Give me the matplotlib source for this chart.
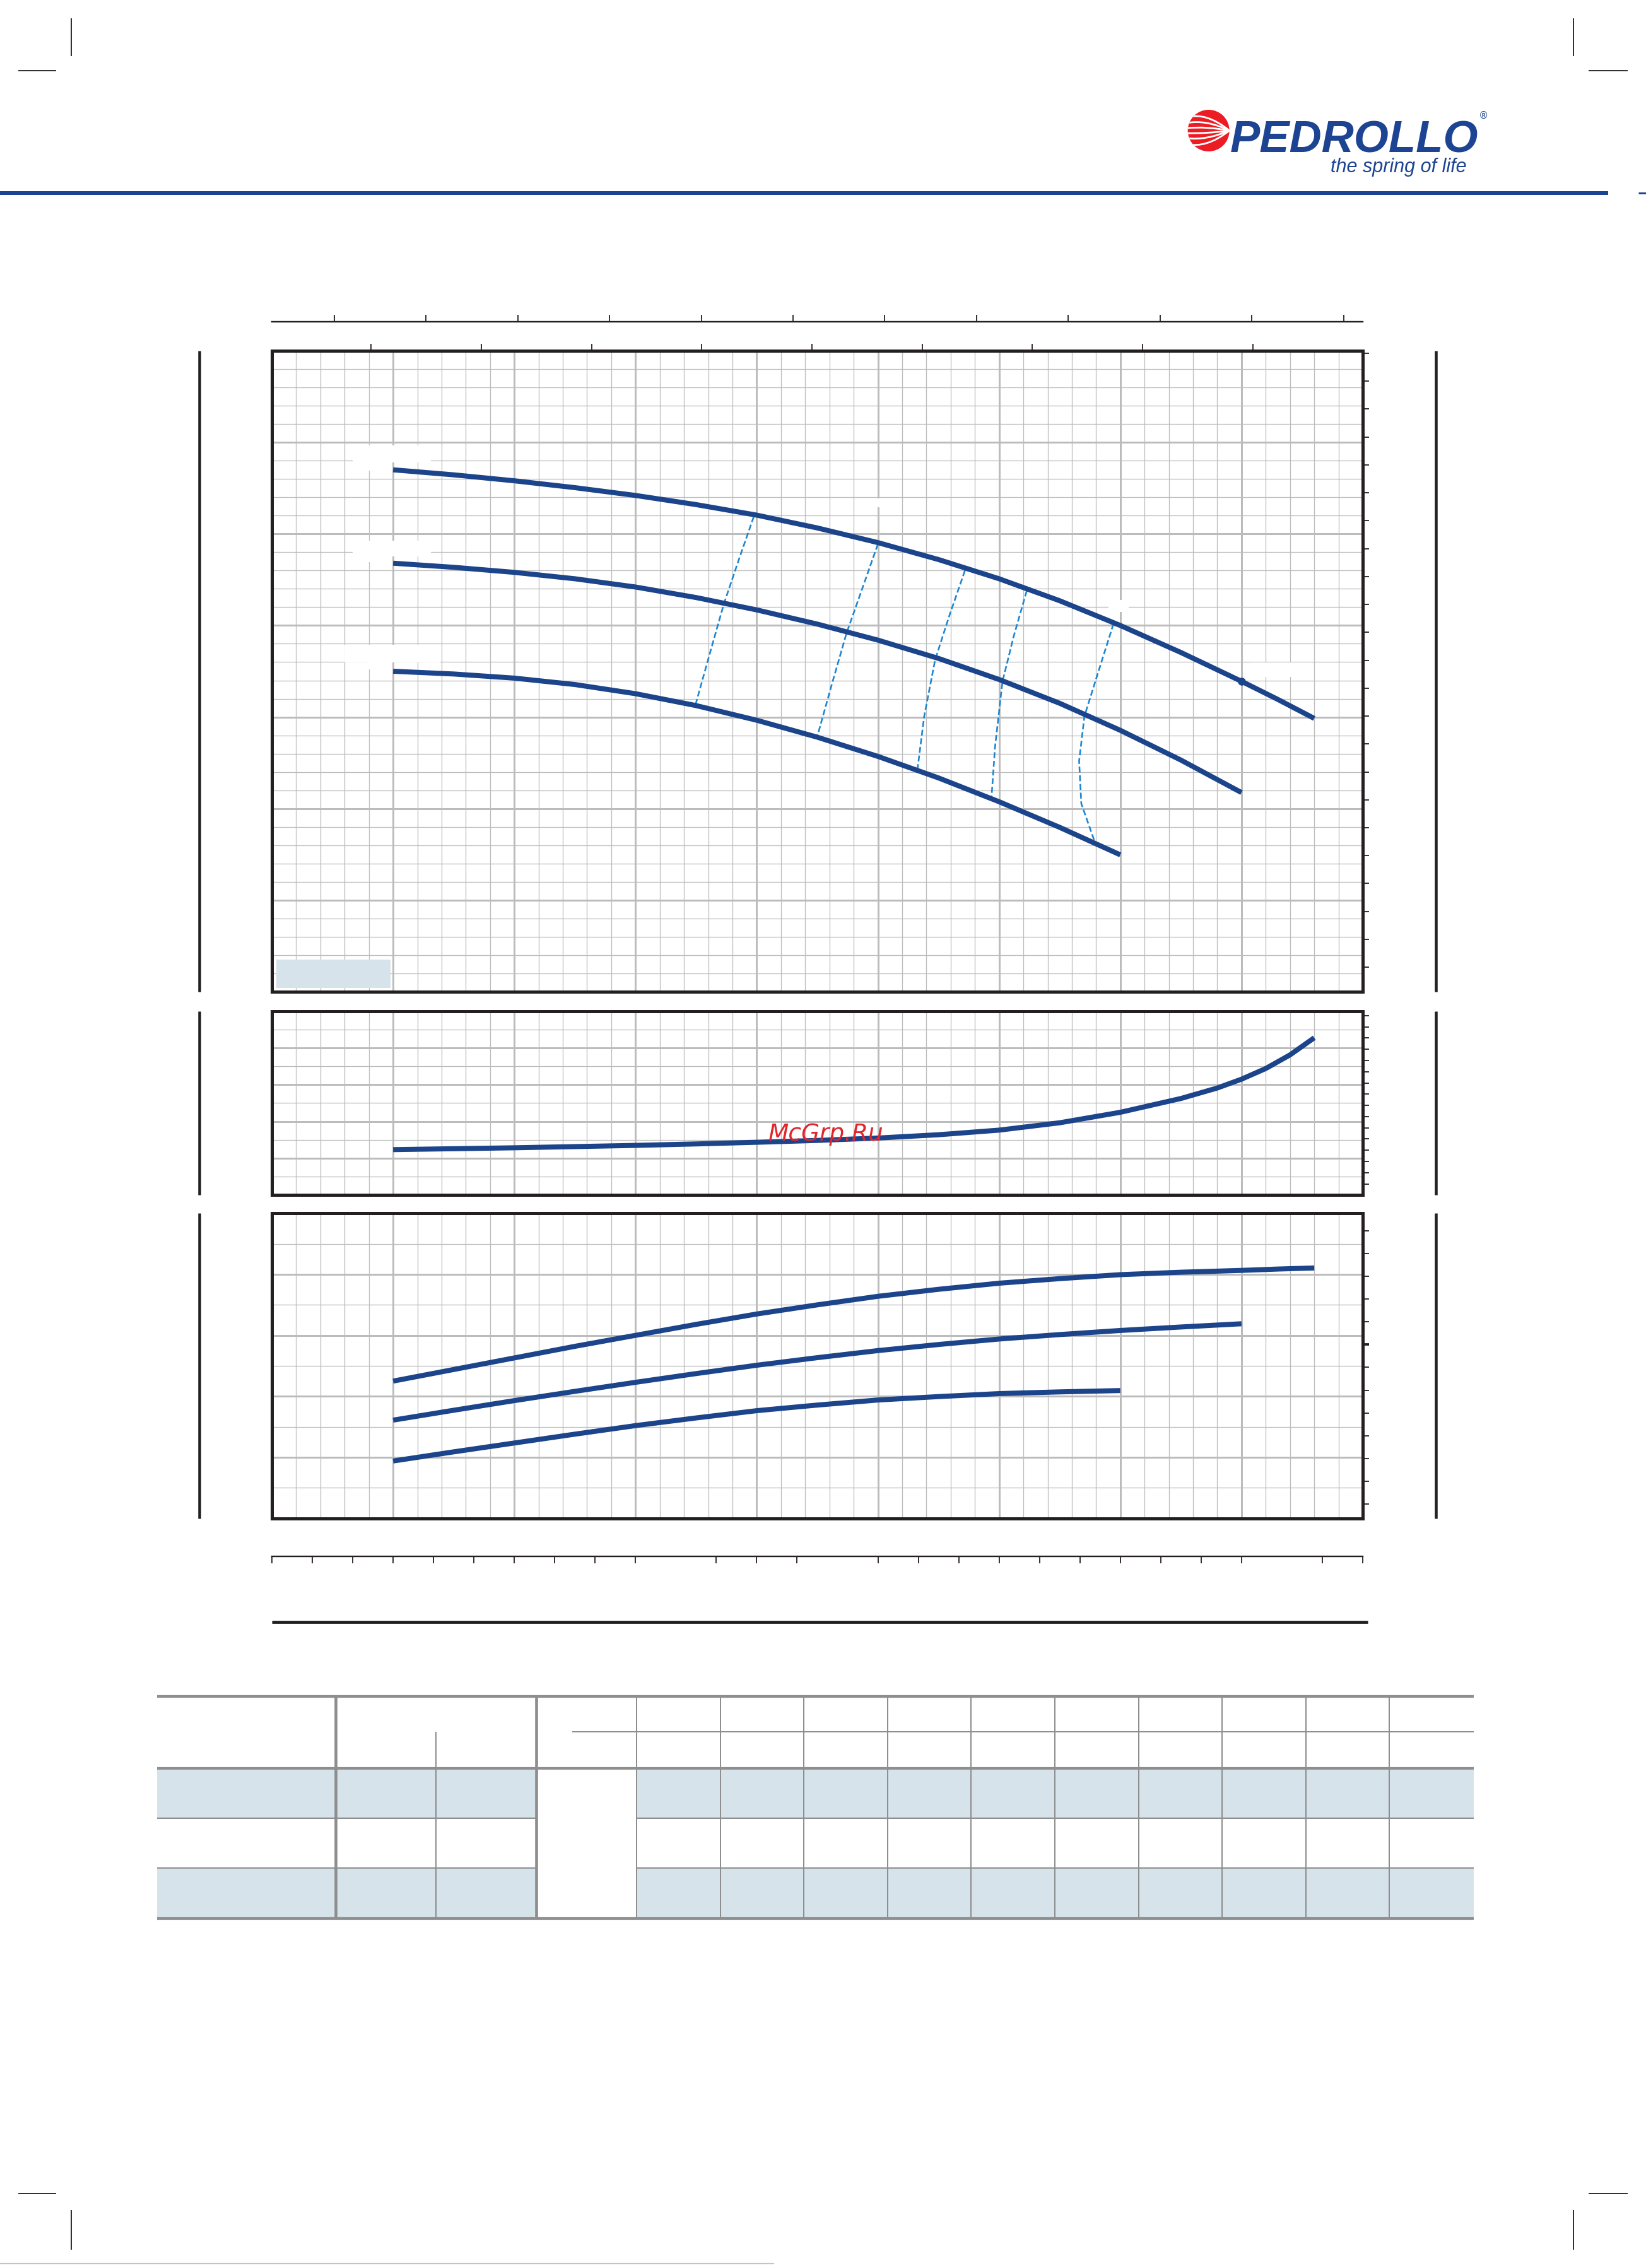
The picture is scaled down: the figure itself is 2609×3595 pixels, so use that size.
import numpy as np
import matplotlib
matplotlib.use('Agg')
import matplotlib.pyplot as plt
from matplotlib.patches import Rectangle, Circle, PathPatch
from matplotlib.path import Path
from matplotlib.ticker import MultipleLocator, FixedLocator

W, H = 2609, 3595
DPI = 100
PX = 72.0 / DPI  # points per pixel

# ---------------- data ----------------
# flow rate l/min, head m
q_a = [100, 125, 150, 175, 200, 225, 250, 275, 300, 325, 350, 375, 400, 425, 450, 465, 480]
h_a = [97.0, 96.45, 95.8, 95.05, 94.2, 93.2, 92.05, 90.65, 89.05, 87.2, 85.1, 82.7, 80.0, 77.05, 73.9, 71.92, 69.85]
q_b = [100, 125, 150, 175, 200, 225, 250, 275, 300, 325, 350, 375, 400, 425, 450]
h_b = [86.8, 86.35, 85.8, 85.1, 84.2, 83.05, 81.7, 80.15, 78.4, 76.4, 74.1, 71.5, 68.55, 65.3, 61.75]
q_c = [100, 125, 150, 175, 200, 225, 250, 275, 300, 325, 350, 375, 400]
h_c = [75.0, 74.7, 74.25, 73.55, 72.55, 71.25, 69.65, 67.8, 65.7, 63.35, 60.75, 57.95, 54.95]

# iso-efficiency dashed lines (Q, H)
eff1_q = [248.8, 242.5, 236.5, 230.5, 224.7]
eff1_h = [91.9, 87.1, 82.4, 76.8, 71.3]
eff2_q = [300.0, 293.5, 287.1, 280.9, 274.9]
eff2_h = [88.9, 84.0, 79.2, 73.5, 67.8]
eff3_q = [335.9, 329.5, 323.6, 319.1, 316.3]
eff3_h = [86.0, 81.1, 76.25, 70.1, 64.25]
eff4_q = [361.4, 356.0, 351.4, 348.3, 346.8]
eff4_h = [83.8, 78.8, 73.9, 66.7, 61.0]
eff5_q = [397.2, 391.0, 385.2, 383.0, 383.9, 389.4]
eff5_h = [80.2, 75.0, 70.1, 65.2, 60.55, 56.4]

# marked point on the top curve
dot_q = [450]
dot_h = [73.9]

# NPSH (m)
q_npsh = [100, 125, 150, 175, 200, 225, 250, 275, 300, 325, 350, 375, 400, 425, 440, 450, 460, 470, 480]
npsh = [2.47, 2.52, 2.57, 2.635, 2.70, 2.78, 2.87, 2.97, 3.10, 3.28, 3.53, 3.93, 4.50, 5.25, 5.82, 6.30, 6.88, 7.62, 8.55]

# power (kW)
q_pa = [100, 125, 150, 175, 200, 225, 250, 275, 300, 325, 350, 375, 400, 425, 450, 465, 480]
p_a = [4.25, 4.44, 4.63, 4.82, 5.0, 5.18, 5.35, 5.50, 5.64, 5.755, 5.855, 5.93, 5.995, 6.035, 6.065, 6.087, 6.105]
q_pb = [100, 125, 150, 175, 200, 225, 250, 275, 300, 325, 350, 375, 400, 425, 450]
p_b = [3.61, 3.772, 3.93, 4.082, 4.23, 4.373, 4.51, 4.634, 4.75, 4.85, 4.94, 5.013, 5.08, 5.137, 5.19]
q_pc = [100, 125, 150, 175, 200, 225, 250, 275, 300, 325, 350, 375, 400]
p_c = [2.94, 3.09, 3.235, 3.38, 3.52, 3.646, 3.765, 3.857, 3.94, 3.996, 4.045, 4.073, 4.095]

# axis scales / tick positions (no labels legible in the reference)
q_range = (50, 500)          # l/min
h_range = (40, 110)          # m
npsh_range = (0, 10)         # m
p_range = (2, 7)             # kW
usgpm_ticks = list(range(20, 131, 10))
impgpm_ticks = list(range(20, 101, 10))
m3h_ticks = [3, 4, 5, 6, 7, 8, 9, 10, 11, 12, 14, 15, 16, 18, 19, 20, 21,
             22, 23, 24, 25, 26, 27, 29, 30]
ft_ticks_main = list(range(140, 361, 10))
ft_ticks_npsh = list(range(2, 33, 2))
hp_ticks = [3, 3.5, 4, 4.5, 5, 5.5, 6, 7, 7.5, 8, 8.5, 9]
hp_ticks_bold = [6.5]

# blank label areas on the head chart (Q0, H0, Q1, H1)
label_boxes = [
    (83.3, 97.8, 115.6, 99.66), (89.8, 96.9, 99.7, 97.8),
    (83.3, 87.53, 115.6, 89.26), (89.8, 86.9, 99.7, 87.53),
    (80.0, 75.95, 119.5, 77.9), (89.8, 75.2, 99.7, 75.95),
    (298.2, 92.9, 307.3, 93.9),
    (453.7, 74.4, 478.8, 75.96),
    (395.0, 81.5, 403.5, 82.8),
]

# ---------------- styles ----------------
BOX = '#231f20'
GRID = '#bcbcbc'
BLUE = '#1b448b'
DASH = '#1a86d2'
SHADE = '#d6e3ea'
TGRAY = '#8e8e8e'
LOGO_BLUE = '#1d4492'
LOGO_RED = '#ec1c24'

fig = plt.figure(figsize=(W / DPI, H / DPI), dpi=DPI)
fig.patch.set_facecolor('white')


def rect(l, t, r, b):
    return [l / W, 1 - b / H, (r - l) / W, (b - t) / H]


page = fig.add_axes([0, 0, 1, 1], zorder=-1)
page.set_xlim(0, W)
page.set_ylim(H, 0)
page.axis('off')

L, R = 431, 2160


def style_panel(ax, xmaj, xmin, ymaj, ymin):
    ax.xaxis.set_major_locator(MultipleLocator(xmaj))
    ax.xaxis.set_minor_locator(MultipleLocator(xmin))
    ax.yaxis.set_major_locator(MultipleLocator(ymaj))
    ax.yaxis.set_minor_locator(MultipleLocator(ymin))
    ax.grid(which='major', color=GRID, lw=3.0 * PX)
    ax.grid(which='minor', color=GRID, lw=1.3 * PX)
    ax.tick_params(which='both', length=0, labelbottom=False, labelleft=False)
    ax.set_axisbelow(True)
    for s in ax.spines.values():
        s.set_linewidth(5.0 * PX)
        s.set_color(BOX)
        s.set_zorder(5)


def right_ticks(ax, fwd, inv, ticks, bold=None):
    sec = ax.secondary_yaxis('right', functions=(fwd, inv))
    sec.yaxis.set_major_locator(FixedLocator(ticks))
    sec.tick_params(which='major', direction='out', length=10 * PX, width=1.8 * PX,
                    color=BOX, labelright=False)
    if bold:
        sec.yaxis.set_minor_locator(FixedLocator(bold))
        sec.tick_params(which='minor', direction='out', length=10 * PX, width=3.8 * PX,
                        color=BOX, labelright=False)
    else:
        sec.yaxis.set_minor_locator(FixedLocator([]))
    for s in sec.spines.values():
        s.set_visible(False)
    return sec


curve_kw = dict(color=BLUE, lw=8.0 * PX, solid_capstyle='butt', solid_joinstyle='round')
dash_kw = dict(color=DASH, lw=2.6 * PX, linestyle=(0, (3.6, 1.7)))

# ---------------- main head chart ----------------
ax = fig.add_axes(rect(L, 556, R, 1572))
ax.set_xlim(*q_range)
ax.set_ylim(*h_range)
style_panel(ax, 50, 10, 10, 2)
for (x0, y0, x1, y1) in label_boxes:
    ax.add_patch(Rectangle((x0, y0), x1 - x0, y1 - y0, facecolor='white',
                           edgecolor='none', zorder=1.5))
for qq, hh in [(eff1_q, eff1_h), (eff2_q, eff2_h), (eff3_q, eff3_h), (eff4_q, eff4_h), (eff5_q, eff5_h)]:
    ax.plot(qq, hh, **dash_kw, zorder=2)
ax.plot(q_a, h_a, **curve_kw, zorder=3)
ax.plot(q_b, h_b, **curve_kw, zorder=3)
ax.plot(q_c, h_c, **curve_kw, zorder=3)
ax.plot(dot_q, dot_h, 'o', color=BLUE, ms=9, mec='none', zorder=4)
ax.add_patch(Rectangle((51.8, 40.4), 47.1, 3.1, facecolor=SHADE, edgecolor='none', zorder=2))
right_ticks(ax, lambda m: m * 3.28084, lambda f: f / 3.28084, ft_ticks_main)
secx = ax.secondary_xaxis('top', functions=(lambda q: q / 4.54609, lambda g: g * 4.54609))
secx.xaxis.set_major_locator(FixedLocator(impgpm_ticks))
secx.tick_params(direction='out', length=10.7 * PX, width=1.8 * PX, color=BOX, labeltop=False)
for s in secx.spines.values():
    s.set_visible(False)

# US gpm scale line above the chart
ax_us = fig.add_axes(rect(L, 508, R, 510))
ax_us.set_facecolor('none')
ax_us.set_xlim(q_range[0] / 3.78541, q_range[1] / 3.78541)
ax_us.xaxis.set_major_locator(FixedLocator(usgpm_ticks))
ax_us.set_yticks([])
ax_us.tick_params(axis='x', direction='in', length=10.7 * PX, width=1.8 * PX, color=BOX, labelbottom=False)
for k in ['top', 'left', 'right']:
    ax_us.spines[k].set_visible(False)
ax_us.spines['bottom'].set_linewidth(2.4 * PX)
ax_us.spines['bottom'].set_color(BOX)

# ---------------- NPSH chart ----------------
ax2 = fig.add_axes(rect(L, 1602.7, R, 1894.3))
ax2.set_xlim(*q_range)
ax2.set_ylim(*npsh_range)
style_panel(ax2, 50, 10, 2, 1)
ax2.plot(q_npsh, npsh, **curve_kw, zorder=3)
right_ticks(ax2, lambda m: m * 3.28084, lambda f: f / 3.28084, ft_ticks_npsh)

# ---------------- power chart ----------------
ax3 = fig.add_axes(rect(L, 1923.3, R, 2406.7))
ax3.set_xlim(*q_range)
ax3.set_ylim(*p_range)
style_panel(ax3, 50, 10, 1, 0.5)
ax3.plot(q_pa, p_a, **curve_kw, zorder=3)
ax3.plot(q_pb, p_b, **curve_kw, zorder=3)
ax3.plot(q_pc, p_c, **curve_kw, zorder=3)
right_ticks(ax3, lambda k: k / 0.7457, lambda hp: hp * 0.7457, hp_ticks, bold=hp_ticks_bold)

# m3/h scale below
ax_m3 = fig.add_axes(rect(L, 2467, R, 2469))
ax_m3.set_facecolor('none')
ax_m3.set_xlim(q_range[0] * 0.06, q_range[1] * 0.06)
ax_m3.xaxis.set_ticks_position('top')
ax_m3.xaxis.set_major_locator(FixedLocator(m3h_ticks))
ax_m3.set_yticks([])
ax_m3.tick_params(axis='x', direction='in', length=11.5 * PX, width=1.8 * PX, color=BOX, labeltop=False)
for k in ['bottom', 'left', 'right']:
    ax_m3.spines[k].set_visible(False)
ax_m3.spines['top'].set_linewidth(2.4 * PX)
ax_m3.spines['top'].set_color(BOX)

# ---------------- page decorations ----------------
def pline(xs, ys, lw, color=BOX, **kw):
    page.plot(xs, ys, color=color, lw=lw * PX, solid_capstyle='butt', **kw)

# header rule
pline([0, 2549], [305.7, 305.7], 6, color=LOGO_BLUE)
pline([2597, 2609], [305.7, 305.7], 3, color=LOGO_BLUE)
# crop marks
for x in (113, 2494):
    pline([x, x], [29, 89], 1.6, color='black')
    pline([x, x], [3503, 3566], 1.6, color='black')
pline([29, 89], [112, 112], 1.6, color='black')
pline([2518, 2580], [112, 112], 1.6, color='black')
pline([29, 89], [3477, 3477], 1.6, color='black')
pline([2518, 2580], [3477, 3477], 1.6, color='black')
# bottom grey rule
pline([0, 1227], [3588, 3588], 2.2, color='#c4c4c4')
# side bars
for (t, b) in [(556, 1572), (1602.7, 1894.3), (1923.3, 2406.7)]:
    pline([316, 316], [t, b], 4.5)
    pline([2276, 2276], [t, b], 4.5)
# thick rule under the m3/h scale
pline([431, 2168], [2571, 2571], 4.8)

# ---------------- table ----------------
tx0, tx1 = 249, 2336
ytop, ysub, yhdr, yr1, yr2, ybot = 2689, 2745, 2803, 2882, 2961, 3041
c_a, c_b, c_c = 532, 691, 850
data_cols = [1009 + k * 132.6 for k in range(10)]
for (t, b) in [(yhdr, yr1), (yr2, ybot)]:
    page.add_patch(Rectangle((tx0, t), c_c - tx0, b - t, facecolor=SHADE, edgecolor='none'))
    page.add_patch(Rectangle((data_cols[0], t), tx1 - data_cols[0], b - t, facecolor=SHADE, edgecolor='none'))
pline([907, tx1], [ysub, ysub], 2.0, color=TGRAY)
for y in (yr1, yr2):
    pline([tx0, c_c], [y, y], 2.0, color=TGRAY)
    pline([data_cols[0], tx1], [y, y], 2.0, color=TGRAY)
pline([c_b, c_b], [ysub, ybot], 2.0, color=TGRAY)
for x in data_cols:
    pline([x, x], [ytop, ybot], 2.0, color=TGRAY)
for x in (c_a, c_c):
    pline([x, x], [ytop, ybot], 4.6, color=TGRAY)
for y in (ytop, yhdr, ybot):
    pline([tx0, tx1], [y, y], 4.2, color=TGRAY)

# ---------------- logo ----------------
cx, cy, cr = 1915.7, 207.0, 33.0
circ = Circle((cx, cy), cr, facecolor=LOGO_RED, edgecolor='none')
page.add_patch(circ)
for y0, bend in [(186, -9), (195, -6), (203, -3), (211, 1), (219, 4), (228, 8)]:
    verts = [(cx - cr - 2, y0), (cx - 4, y0 + bend), (cx + cr, cy)]
    pth = Path(verts, [Path.MOVETO, Path.CURVE3, Path.CURVE3])
    pp = PathPatch(pth, facecolor='none', edgecolor='white', lw=2.8 * PX)
    page.add_patch(pp)
    pp.set_clip_path(circ)
page.text(1950, 242, 'PEDROLLO', fontsize=51, fontweight='bold', fontstyle='italic',
          family=['Liberation Sans', 'DejaVu Sans'], color=LOGO_BLUE, ha='left', va='baseline')
page.text(2351, 183, '®', fontsize=11, color=LOGO_BLUE, ha='center', va='center',
          family=['DejaVu Sans'])
page.text(2109, 273, 'the spring of life', fontsize=22, fontstyle='italic',
          family=['Liberation Sans', 'DejaVu Sans'], color=LOGO_BLUE, ha='left', va='baseline')

# watermark
fig.text(1309, 1798, 'McGrp.Ru', transform=page.transData, fontsize=27, fontstyle='italic',
         color='#e0262c', ha='center', va='center', family=['DejaVu Sans'], zorder=10)

fig.savefig('out.png', dpi=DPI, facecolor='white')
